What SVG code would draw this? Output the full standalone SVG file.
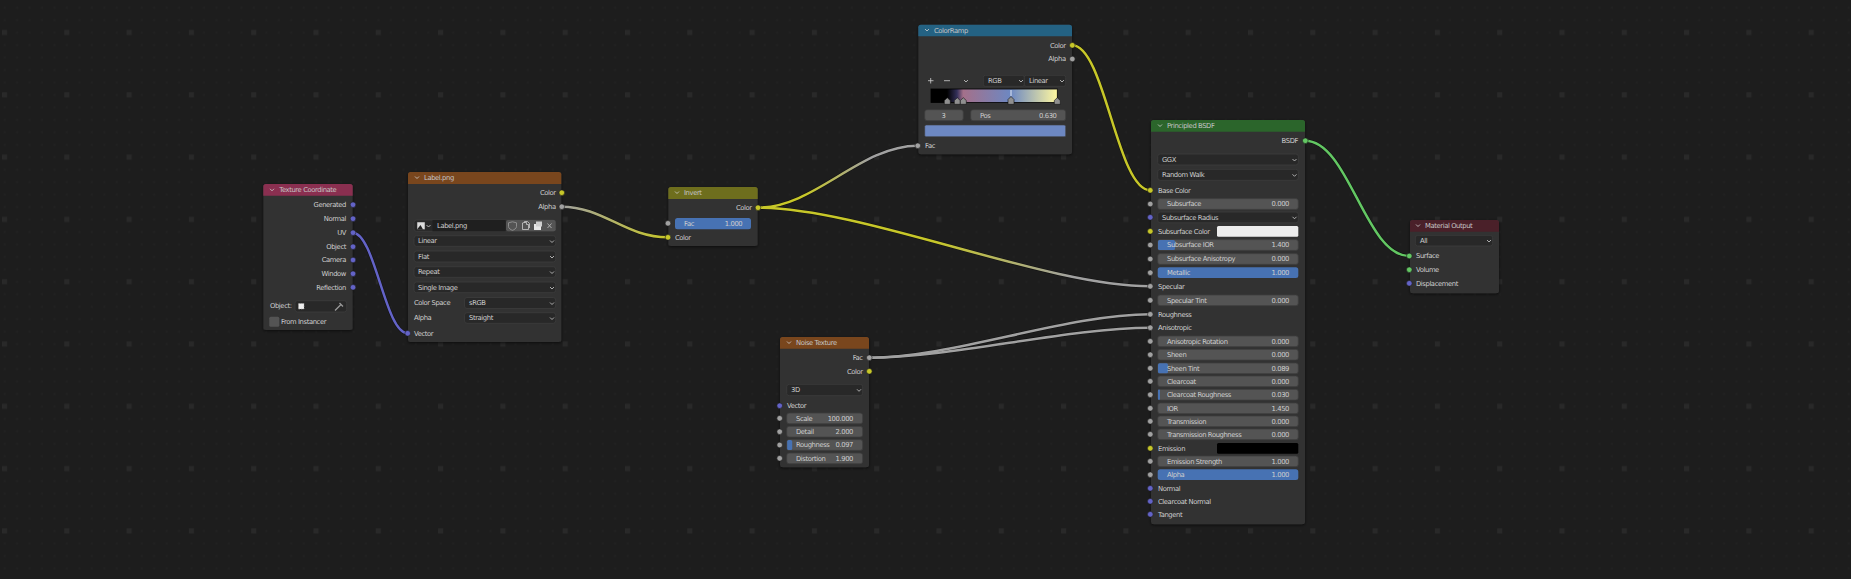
<svg xmlns="http://www.w3.org/2000/svg" width="1851" height="579" viewBox="0 0 1851 579">
<style>
text{font-family:"DejaVu Sans",sans-serif;font-size:6.8px;letter-spacing:-.4px;fill:#cecece}
.r{text-anchor:end}
.c{text-anchor:middle}
.t{fill:#c4c4c4}
.body{fill:#303030;filter:url(#sh)}
.dd{fill:#282828;stroke:#3c3c3c;stroke-width:.8}
.f{fill:#545454;stroke:#3c3c3c;stroke-width:.8}
.b{fill:#4772b3}
.y{fill:#c7c729;stroke:#1d1d1d;stroke-width:.6}
.g{fill:#a1a1a1;stroke:#1d1d1d;stroke-width:.6}
.p{fill:#6363c7;stroke:#1d1d1d;stroke-width:.6}
.n{fill:#63c763;stroke:#1d1d1d;stroke-width:.6}
.ch{fill:none;stroke:#cfcfcf;stroke-width:.8}
.lk{fill:none;stroke-width:2.5;stroke-linecap:round}
.ol{fill:none;stroke:#000;stroke-opacity:.45;stroke-width:3.6}
.h{fill:#8f8f8f;stroke:#111;stroke-width:.6}
</style>
<defs>
<filter id="sh" x="-10%" y="-10%" width="120%" height="120%"><feDropShadow dx="0" dy="1" stdDeviation="1.6" flood-color="#000" flood-opacity=".6"/></filter>
<pattern id="big" width="62.3" height="62.3" patternUnits="userSpaceOnUse"><rect x="2" y="30" width="5" height="5" fill="#292929"/></pattern>
<pattern id="small" width="12.46" height="12.46" patternUnits="userSpaceOnUse"><rect x="3.6" y="6.7" width="2" height="2" fill="#212121"/></pattern>
<path id="cv" class="ch" d="M-2-1L0 1 2-1"/>
<path id="l1" d="M352.7 232.7C375 232.7 385 333.3 407.7 333.3"/>
<path id="l2" d="M561.3 206.7C604 206.7 625 237.3 668 237.3"/>
<path id="l3" d="M757.7 207.7C815 207.7 860 145.7 917.500 145.700"/>
<path id="l4" d="M757.7 207.7C864 207.7 1044 286.3 1150.3 286.3"/>
<path id="l5" d="M1072 45.3C1105 45.3 1117 190.3 1150.3 190.3"/>
<path id="l6" d="M869 357.7C953 357.7 1066 314.3 1150.3 314.3"/>
<path id="l7" d="M869 357.7C953 357.7 1066 327.7 1150.3 327.7"/>
<path id="l8" d="M1305 140.7C1349 140.7 1365 256 1409.3 256"/>
<linearGradient id="g2" gradientUnits="userSpaceOnUse" x1="561" y1="0" x2="668" y2="0"><stop offset="0" stop-color="#a1a1a1"/><stop offset="1" stop-color="#c7c729"/></linearGradient>
<linearGradient id="g3" gradientUnits="userSpaceOnUse" x1="758" y1="0" x2="917" y2="0"><stop offset="0" stop-color="#c7c729"/><stop offset=".3" stop-color="#c7c729"/><stop offset=".7" stop-color="#a1a1a1"/><stop offset="1" stop-color="#a1a1a1"/></linearGradient>
<linearGradient id="g4" gradientUnits="userSpaceOnUse" x1="758" y1="0" x2="1150" y2="0"><stop offset="0" stop-color="#c7c729"/><stop offset=".45" stop-color="#c7c729"/><stop offset=".8" stop-color="#a1a1a1"/><stop offset="1" stop-color="#a1a1a1"/></linearGradient>
<linearGradient id="ramp" gradientUnits="userSpaceOnUse" x1="931" y1="0" x2="1057.3" y2="0"><stop offset=".127" stop-color="#000"/><stop offset=".206" stop-color="#33305a"/><stop offset=".255" stop-color="#a4708a"/><stop offset=".63" stop-color="#6d88c2"/><stop offset="1" stop-color="#fff8a0"/></linearGradient>
</defs>
<rect width="1851" height="579" fill="#1d1d1d"/>
<rect width="1851" height="579" fill="url(#small)"/>
<rect width="1851" height="579" fill="url(#big)"/>

<g id="connectors">
<use href="#l1" class="ol"/><use href="#l2" class="ol"/><use href="#l3" class="ol"/><use href="#l4" class="ol"/><use href="#l5" class="ol"/><use href="#l6" class="ol"/><use href="#l7" class="ol"/><use href="#l8" class="ol"/>
<use href="#l1" class="lk" stroke="#6363c7"/>
<use href="#l2" class="lk" stroke="url(#g2)"/>
<use href="#l3" class="lk" stroke="url(#g3)"/>
<use href="#l4" class="lk" stroke="url(#g4)"/>
<use href="#l5" class="lk" stroke="#c7c729"/>
<use href="#l6" class="lk" stroke="#a1a1a1"/>
<use href="#l7" class="lk" stroke="#a1a1a1"/>
<use href="#l8" class="lk" stroke="#63c763"/>
</g>

<g id="node-texture-coordinate">
<rect class="body" x="263.3" y="184" width="89.4" height="146" rx="2.5"/>
<path fill="#8a2f50" d="M263.3 195.7V186.500a2.500 2.500 0 0 1 2.500-2.500H350.200a2.500 2.500 0 0 1 2.500 2.500V195.700Z"/>
<use href="#cv" x="272" y="189.800"/>
<text class="t" x="279.300" y="192">Texture Coordinate</text>
<circle class="p" cx="353" cy="204.700" r="2.800"/><text class="r" x="346" y="207">Generated</text>
<circle class="p" cx="353" cy="218.700" r="2.800"/><text class="r" x="346" y="221">Normal</text>
<circle class="p" cx="353" cy="232.700" r="2.800"/><text class="r" x="346" y="235">UV</text>
<circle class="p" cx="353" cy="246.700" r="2.800"/><text class="r" x="346" y="249">Object</text>
<circle class="p" cx="353" cy="260" r="2.800"/><text class="r" x="346" y="262.300">Camera</text>
<circle class="p" cx="353" cy="273.700" r="2.800"/><text class="r" x="346" y="276">Window</text>
<circle class="p" cx="353" cy="287.300" r="2.800"/><text class="r" x="346" y="289.600">Reflection</text>
<text x="270" y="308">Object:</text>
<rect class="dd" x="295" y="300.700" width="51.700" height="11.300" rx="2.500"/>
<rect x="298.500" y="303.500" width="5.500" height="5.500" fill="#eee" stroke="#aaa" stroke-width=".6" stroke-dasharray="1.500 1"/>
<path d="M335 310.500L341 304.500M339.500 303L343 306.500" stroke="#9a9a9a" stroke-width="1.300" fill="none"/>
<rect x="269.300" y="316.700" width="10" height="10" rx="1.500" fill="#545454"/>
<text x="281" y="324">From Instancer</text>
</g>

<g id="node-image-texture">
<rect class="body" x="408" y="172" width="153.300" height="170" rx="2.500"/>
<path fill="#79461d" d="M408 184V174.500a2.500 2.500 0 0 1 2.500-2.500H558.800a2.500 2.500 0 0 1 2.500 2.500V184Z"/>
<use href="#cv" x="417" y="177.500"/>
<text class="t" x="424" y="180.300">Label.png</text>
<circle class="y" cx="561.800" cy="192.700" r="2.800"/><text class="r" x="555.700" y="195">Color</text>
<circle class="g" cx="561.800" cy="206.700" r="2.800"/><text class="r" x="555.700" y="209">Alpha</text>
<rect class="dd" x="414" y="220" width="141.700" height="11.300" rx="2.500"/>
<rect x="417" y="222" width="8" height="7.500" fill="#ddd" stroke="#333" stroke-width=".5"/>
<path d="M417 229.500L420.500 225 423 229.500Z" fill="#222"/>
<use href="#cv" x="428.500" y="226"/>
<rect x="432.500" y="220" width="73" height="11.300" fill="#1f1f1f"/>
<text x="437" y="228">Label.png</text>
<rect x="506" y="220" width="49.700" height="11.300" rx="2" fill="#545454"/>
<path d="M508.500 222.800L512.500 221.800 516.500 222.800V226.500C516.500 228.500 514 229.800 512.500 230.300 511 229.800 508.500 228.500 508.500 226.500Z" fill="none" stroke="#9c9c9c" stroke-width=".8"/>
<path d="M522.500 223V229.500H528.500V224.500H526.500V222.500H524ZM524.500 222.500V221.500H527.500L529.500 223.500V228" fill="none" stroke="#ddd" stroke-width=".7"/>
<rect x="534" y="224" width="7" height="6" fill="#e8e8e8"/><rect x="536" y="221.500" width="6" height="5" fill="#cfcfcf"/>
<path d="M547.500 223.500L551.500 228M551.500 223.500L547.500 228" stroke="#b5b5b5" stroke-width=".9"/>
<rect class="dd" x="414" y="235.700" width="141.700" height="10.600" rx="2.500"/><text x="418" y="243.300">Linear</text><use href="#cv" x="552" y="241.500"/>
<rect class="dd" x="414" y="251" width="141.700" height="11" rx="2.500"/><text x="418" y="258.800">Flat</text><use href="#cv" x="552" y="257"/>
<rect class="dd" x="414" y="266.700" width="141.700" height="10.600" rx="2.500"/><text x="418" y="274.300">Repeat</text><use href="#cv" x="552" y="272.500"/>
<rect class="dd" x="414" y="282" width="141.700" height="10.700" rx="2.500"/><text x="418" y="289.700">Single Image</text><use href="#cv" x="552" y="288"/>
<text x="414" y="305.300">Color Space</text><rect class="dd" x="464.500" y="297.500" width="91.200" height="11" rx="2.500"/><text x="469" y="305.300">sRGB</text><use href="#cv" x="552" y="303.500"/>
<text x="414" y="320.300">Alpha</text><rect class="dd" x="464.500" y="312.700" width="91.200" height="10.600" rx="2.500"/><text x="469" y="320.300">Straight</text><use href="#cv" x="552" y="318.500"/>
<circle class="p" cx="407.700" cy="333.300" r="2.800"/><text x="414" y="335.700">Vector</text>
</g>

<g id="node-invert">
<rect class="body" x="668.300" y="187" width="89.400" height="59" rx="2.500"/>
<path fill="#6e6e1d" d="M668.300 199V189.500a2.500 2.500 0 0 1 2.500-2.500H755.200a2.500 2.500 0 0 1 2.500 2.500V199Z"/>
<use href="#cv" x="677" y="192.500"/>
<text class="t" x="684" y="195.300">Invert</text>
<circle class="y" cx="758" cy="207.700" r="2.800"/><text class="r" x="751.700" y="210">Color</text>
<circle class="g" cx="668" cy="223.300" r="2.800"/>
<rect class="b" x="675" y="218" width="76" height="11.300" rx="2.500"/>
<text x="684" y="226">Fac</text><text class="r" x="742.300" y="226">1.000</text>
<circle class="y" cx="668" cy="237.300" r="2.800"/><text x="675" y="239.700">Color</text>
</g>

<g id="node-color-ramp">
<rect class="body" x="918.300" y="24.700" width="153.700" height="129.600" rx="2.500"/>
<path fill="#246283" d="M918.300 36.300V27.200a2.500 2.500 0 0 1 2.500-2.500H1069.500a2.500 2.500 0 0 1 2.500 2.500V36.300Z"/>
<use href="#cv" x="927" y="30"/>
<text class="t" x="934" y="32.800">ColorRamp</text>
<circle class="y" cx="1072.300" cy="45.300" r="2.800"/><text class="r" x="1065.700" y="47.600">Color</text>
<circle class="g" cx="1072.300" cy="59" r="2.800"/><text class="r" x="1065.700" y="61.300">Alpha</text>
<path d="M928 80.700H933.500M930.700 78V83.500M944 80.700H950" stroke="#cfcfcf" stroke-width=".8"/>
<use href="#cv" x="966" y="81"/>
<rect class="dd" x="983.300" y="75.300" width="41" height="11" rx="2"/><text x="988" y="83">RGB</text><use href="#cv" x="1021" y="81"/>
<rect class="dd" x="1024.300" y="75.300" width="41.400" height="11" rx="2"/><text x="1029" y="83">Linear</text><use href="#cv" x="1062" y="81"/>
<rect x="931" y="89" width="126.300" height="13.500" fill="url(#ramp)" stroke="#000" stroke-width=".8"/>
<path class="h" d="M944.300 104.300V100.500L947.300 97.700 950.300 100.500V104.300Z"/>
<path class="h" d="M954.300 104.300V100.500L957.300 97.700 960.300 100.500V104.300Z"/>
<path class="h" d="M960.300 104.300V100.500L963.300 97.700 966.300 100.500V104.300Z"/>
<path d="M1011 90V96" stroke="#fff" stroke-width=".8"/>
<path class="h" d="M1008 104.300V99.500L1011 96.500 1014 99.500V104.300Z" stroke="#fff"/>
<path class="h" d="M1054.300 104.300V100.500L1057.300 97.700 1060.300 100.500V104.300Z"/>
<rect class="f" x="924.700" y="109.700" width="38.600" height="11" rx="2.500"/><text class="c" x="943.500" y="117.500">3</text>
<rect class="f" x="970.700" y="109.700" width="95" height="11" rx="2.500"/><text x="980" y="117.500">Pos</text><text class="r" x="1056.500" y="117.500">0.630</text>
<rect x="924.700" y="125" width="141" height="11.700" rx="1.500" fill="#6d88c2" stroke="#3c3c3c" stroke-width=".6"/>
<circle class="g" cx="917.800" cy="145.700" r="2.800"/><text x="925" y="148">Fac</text>
</g>

<g id="node-noise-texture">
<rect class="body" x="780" y="337" width="89" height="130.300" rx="2.500"/>
<path fill="#79461d" d="M780 348.700V339.500a2.500 2.500 0 0 1 2.500-2.500H866.500a2.500 2.500 0 0 1 2.500 2.500V348.700Z"/>
<use href="#cv" x="789" y="342.500"/>
<text class="t" x="796" y="345.300">Noise Texture</text>
<circle class="g" cx="869.300" cy="357.700" r="2.800"/><text class="r" x="862.700" y="360">Fac</text>
<circle class="y" cx="869.300" cy="371.300" r="2.800"/><text class="r" x="862.700" y="373.600">Color</text>
<rect class="dd" x="786.700" y="384.300" width="76" height="11.400" rx="2.500"/><text x="791" y="392.300">3D</text><use href="#cv" x="859" y="390.300"/>
<circle class="p" cx="779.700" cy="405.700" r="2.800"/><text x="787" y="408">Vector</text>
<circle class="g" cx="779.700" cy="418.300" r="2.800"/><rect class="f" x="786.700" y="413" width="76" height="10.800" rx="2.500"/><text x="796" y="420.700">Scale</text><text class="r" x="853" y="420.700">100.000</text>
<circle class="g" cx="779.700" cy="431.700" r="2.800"/><rect class="f" x="786.700" y="426.300" width="76" height="10.800" rx="2.500"/><text x="796" y="434">Detail</text><text class="r" x="853" y="434">2.000</text>
<circle class="g" cx="779.700" cy="445" r="2.800"/><rect class="f" x="786.700" y="439.600" width="76" height="10.800" rx="2.500"/><rect class="b" x="787.200" y="440" width="5" height="10" rx="1.500"/><text x="796" y="447.300">Roughness</text><text class="r" x="853" y="447.300">0.097</text>
<circle class="g" cx="779.700" cy="458.300" r="2.800"/><rect class="f" x="786.700" y="453" width="76" height="10.800" rx="2.500"/><text x="796" y="460.600">Distortion</text><text class="r" x="853" y="460.600">1.900</text>
</g>

<g id="node-principled-bsdf">
<rect class="body" x="1151" y="120" width="154" height="404.300" rx="2.500"/>
<path fill="#2b652b" d="M1151 131.700V122.500a2.500 2.500 0 0 1 2.500-2.500H1302.500a2.500 2.500 0 0 1 2.500 2.500V131.700Z"/>
<use href="#cv" x="1160" y="125.500"/>
<text class="t" x="1167" y="128.300">Principled BSDF</text>
<circle class="n" cx="1305.300" cy="140.700" r="2.800"/><text class="r" x="1298" y="143">BSDF</text>
<rect class="dd" x="1157.700" y="154" width="140.600" height="11" rx="2.500"/><text x="1162" y="161.800">GGX</text><use href="#cv" x="1294.500" y="160"/>
<rect class="dd" x="1157.700" y="169.300" width="140.600" height="11" rx="2.500"/><text x="1162" y="177">Random Walk</text><use href="#cv" x="1294.500" y="175.300"/>
<circle class="y" cx="1150.300" cy="190.300" r="2.800"/><text x="1158" y="192.600">Base Color</text>
<circle class="g" cx="1150.300" cy="204" r="2.800"/><rect class="f" x="1157.700" y="198.600" width="140.600" height="10.800" rx="2.500"/><text x="1167" y="206.300">Subsurface</text><text class="r" x="1289" y="206.300">0.000</text>
<circle class="p" cx="1150.300" cy="217.300" r="2.800"/><rect class="dd" x="1157.700" y="212" width="140.600" height="10.800" rx="2.500"/><text x="1162" y="219.700">Subsurface Radius</text><use href="#cv" x="1294.500" y="217.800"/>
<circle class="y" cx="1150.300" cy="231.300" r="2.800"/><text x="1158" y="233.600">Subsurface Color</text><rect x="1217" y="226" width="81.300" height="10.800" rx="1.500" fill="#ededed"/>
<circle class="g" cx="1150.300" cy="245" r="2.800"/><rect class="f" x="1157.700" y="239.600" width="140.600" height="10.800" rx="2.500"/><rect class="b" x="1158" y="240" width="17" height="10" rx="1.500"/><text x="1167" y="247.300">Subsurface IOR</text><text class="r" x="1289" y="247.300">1.400</text>
<circle class="g" cx="1150.300" cy="259" r="2.800"/><rect class="f" x="1157.700" y="253.600" width="140.600" height="10.800" rx="2.500"/><text x="1167" y="261.300">Subsurface Anisotropy</text><text class="r" x="1289" y="261.300">0.000</text>
<circle class="g" cx="1150.300" cy="272.700" r="2.800"/><rect class="b" x="1157.700" y="267.300" width="140.600" height="10.800" rx="2.500"/><text x="1167" y="275">Metallic</text><text class="r" x="1289" y="275">1.000</text>
<circle class="g" cx="1150.300" cy="286.300" r="2.800"/><text x="1158" y="288.600">Specular</text>
<circle class="g" cx="1150.300" cy="300.300" r="2.800"/><rect class="f" x="1157.700" y="294.900" width="140.600" height="10.800" rx="2.500"/><text x="1167" y="302.600">Specular Tint</text><text class="r" x="1289" y="302.600">0.000</text>
<circle class="g" cx="1150.300" cy="314.300" r="2.800"/><text x="1158" y="316.600">Roughness</text>
<circle class="g" cx="1150.300" cy="327.700" r="2.800"/><text x="1158" y="330">Anisotropic</text>
<circle class="g" cx="1150.300" cy="341.300" r="2.800"/><rect class="f" x="1157.700" y="335.900" width="140.600" height="10.800" rx="2.500"/><text x="1167" y="343.600">Anisotropic Rotation</text><text class="r" x="1289" y="343.600">0.000</text>
<circle class="g" cx="1150.300" cy="354.700" r="2.800"/><rect class="f" x="1157.700" y="349.300" width="140.600" height="10.800" rx="2.500"/><text x="1167" y="357">Sheen</text><text class="r" x="1289" y="357">0.000</text>
<circle class="g" cx="1150.300" cy="368.300" r="2.800"/><rect class="f" x="1157.700" y="362.900" width="140.600" height="10.800" rx="2.500"/><rect class="b" x="1158" y="363.300" width="10" height="10" rx="1.500"/><text x="1167" y="370.600">Sheen Tint</text><text class="r" x="1289" y="370.600">0.089</text>
<circle class="g" cx="1150.300" cy="381.300" r="2.800"/><rect class="f" x="1157.700" y="375.900" width="140.600" height="10.800" rx="2.500"/><text x="1167" y="383.600">Clearcoat</text><text class="r" x="1289" y="383.600">0.000</text>
<circle class="g" cx="1150.300" cy="394.700" r="2.800"/><rect class="f" x="1157.700" y="389.300" width="140.600" height="10.800" rx="2.500"/><rect class="b" x="1158" y="389.700" width="2" height="10"/><text x="1167" y="397">Clearcoat Roughness</text><text class="r" x="1289" y="397">0.030</text>
<circle class="g" cx="1150.300" cy="408.300" r="2.800"/><rect class="f" x="1157.700" y="402.900" width="140.600" height="10.800" rx="2.500"/><text x="1167" y="410.600">IOR</text><text class="r" x="1289" y="410.600">1.450</text>
<circle class="g" cx="1150.300" cy="421.300" r="2.800"/><rect class="f" x="1157.700" y="415.900" width="140.600" height="10.800" rx="2.500"/><text x="1167" y="423.600">Transmission</text><text class="r" x="1289" y="423.600">0.000</text>
<circle class="g" cx="1150.300" cy="434.300" r="2.800"/><rect class="f" x="1157.700" y="428.900" width="140.600" height="10.800" rx="2.500"/><text x="1167" y="436.600">Transmission Roughness</text><text class="r" x="1289" y="436.600">0.000</text>
<circle class="y" cx="1150.300" cy="448.300" r="2.800"/><text x="1158" y="450.600">Emission</text><rect x="1217" y="443" width="81.300" height="10.800" rx="1.500" fill="#000"/>
<circle class="g" cx="1150.300" cy="461.300" r="2.800"/><rect class="f" x="1157.700" y="455.900" width="140.600" height="10.800" rx="2.500"/><text x="1167" y="463.600">Emission Strength</text><text class="r" x="1289" y="463.600">1.000</text>
<circle class="g" cx="1150.300" cy="474.700" r="2.800"/><rect class="b" x="1157.700" y="469.300" width="140.600" height="10.800" rx="2.500"/><text x="1167" y="477">Alpha</text><text class="r" x="1289" y="477">1.000</text>
<circle class="p" cx="1150.300" cy="488.300" r="2.800"/><text x="1158" y="490.600">Normal</text>
<circle class="p" cx="1150.300" cy="501.300" r="2.800"/><text x="1158" y="503.600">Clearcoat Normal</text>
<circle class="p" cx="1150.300" cy="514.300" r="2.800"/><text x="1158" y="516.600">Tangent</text>
</g>

<g id="node-material-output">
<rect class="body" x="1410" y="220" width="89" height="73.300" rx="2.500"/>
<path fill="#4a2029" d="M1410 231.700V222.500a2.500 2.500 0 0 1 2.500-2.500H1496.500a2.500 2.500 0 0 1 2.500 2.500V231.700Z"/>
<use href="#cv" x="1418" y="225.500"/>
<text class="t" x="1425" y="228.300">Material Output</text>
<rect class="dd" x="1415.300" y="235.300" width="77.400" height="10.700" rx="2.500"/><text x="1420" y="243">All</text><use href="#cv" x="1489" y="241"/>
<circle class="n" cx="1409.300" cy="256" r="2.800"/><text x="1416" y="258.300">Surface</text>
<circle class="n" cx="1409.300" cy="269.700" r="2.800"/><text x="1416" y="272">Volume</text>
<circle class="p" cx="1409.300" cy="283.300" r="2.800"/><text x="1416" y="285.600">Displacement</text>
</g>
</svg>
